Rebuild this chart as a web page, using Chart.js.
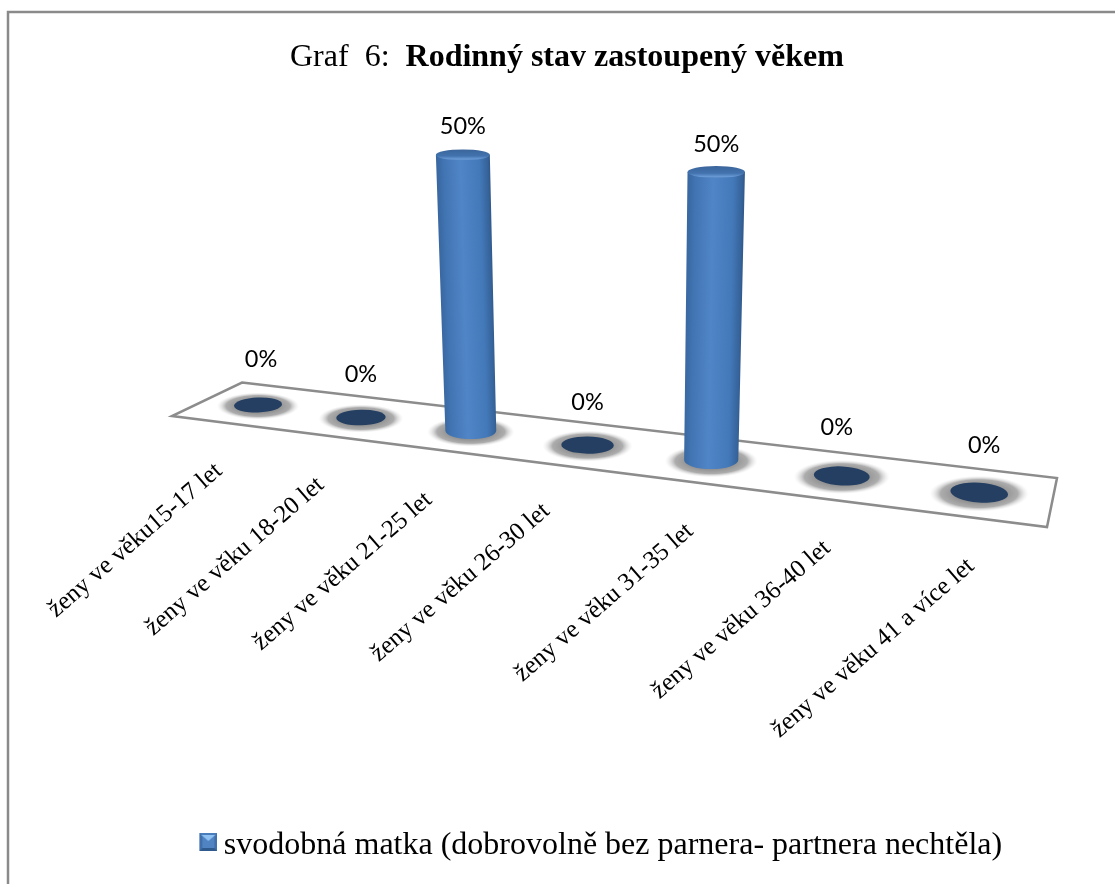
<!DOCTYPE html>
<html><head><meta charset="utf-8">
<style>html,body{margin:0;padding:0;background:#fff}#w{position:relative;width:1115px;height:884px}canvas{display:block}</style>
<script src="https://cdn.jsdelivr.net/npm/chart.js@4"></script></head>
<body><div id="w"><canvas id="c" width="1115" height="884"></canvas></div>
<script>
const categories = ['ženy ve věku15-17 let','ženy ve věku 18-20 let','ženy ve věku 21-25 let','ženy ve věku 26-30 let','ženy ve věku 31-35 let','ženy ve věku 36-40 let','ženy ve věku 41 a více let'];
const seriesName = 'svodobná matka (dobrovolně bez parnera- partnera nechtěla)';
const seriesValues = [0,0,50,0,50,0,0];
const titlePrefix = 'Graf  6:  ';
const titleBold = 'Rodinný stav zastoupený věkem';

const tickNudgeX = [-49,-50,-52,-51,-31,-24.5,-18];
const tickNudgeY = [51.5,53,54.6,51.5,56.6,57.8,59];
const labelNudgeX = [3,0,0,0,0,-5,5];
const labelNudgeY = [-1,2,0,2,0,-4,-2];
const serif = '"Liberation Serif","Times New Roman",serif';

// perspective of the slanted floor: category pixel -> screen point
function project(chart, xPx){
  const s = (xPx - chart.scales.x.getPixelForValue(0)) / (chart.scales.x.getPixelForValue(1) - chart.scales.x.getPixelForValue(0));
  const x = 258 + 99.5*s + 3.45*s*s;
  const y = chart.scales.y.getPixelForValue(0) + (x-258)*0.1215;
  const rx = 24 + (x-258)*0.0068;
  const ry = 7.5 + (x-258)*0.0034;
  return {x,y,rx,ry};
}

function halo(ctx,p){
  ctx.save();
  ctx.translate(p.x,p.y+1);
  const R=p.rx*1.72;
  ctx.scale(1,(p.ry*1.8)/R);
  const g=ctx.createRadialGradient(0,0,R*0.5,0,0,R);
  g.addColorStop(0,'rgba(145,145,145,1)');
  g.addColorStop(0.55,'rgba(168,168,168,0.95)');
  g.addColorStop(1,'rgba(230,230,230,0)');
  ctx.fillStyle=g;
  ctx.beginPath();ctx.arc(0,0,R,0,Math.PI*2);ctx.fill();
  ctx.restore();
}

function cylinder(ctx,b,t,rt,ryt){
  const h=b.y-t.y, k=(b.x-t.x)/h;
  ctx.save();
  ctx.transform(1,0,k,1,b.x,b.y);   // local frame follows the leaning axis
  const g=ctx.createLinearGradient(-rt,0,rt,0);
  g.addColorStop(0,'#38669f');g.addColorStop(0.14,'#4174b2');
  g.addColorStop(0.45,'#5085c7');g.addColorStop(0.8,'#4379b9');
  g.addColorStop(0.95,'#36639a');g.addColorStop(1,'#2f5788');
  ctx.fillStyle=g;
  ctx.beginPath();
  ctx.moveTo(-rt,-h);
  ctx.lineTo(-b.rx,0);
  ctx.ellipse(0,0,b.rx,b.ry,0,Math.PI,0,true);
  ctx.lineTo(rt,-h);
  ctx.closePath();ctx.fill();
  ctx.restore();
  const c=ctx.createLinearGradient(0,t.y-ryt,0,t.y+ryt);
  c.addColorStop(0,'#3a659b');c.addColorStop(0.6,'#4272ad');c.addColorStop(0.9,'#6b9bd6');c.addColorStop(1,'#4f82c0');
  ctx.fillStyle=c;
  ctx.beginPath();ctx.ellipse(t.x,t.y,rt,ryt,0,0,Math.PI*2);ctx.fill();
}

const legendIcon = document.createElement('canvas');
legendIcon.width=20;legendIcon.height=26;
(function(){
  const c=legendIcon.getContext('2d');
  c.translate(2,0);
  c.fillStyle='#4a7ebb';c.fillRect(0,0,18,18);
  c.fillStyle='#3f70ab';c.beginPath();c.moveTo(0,0);c.lineTo(9,9);c.lineTo(0,18);c.fill();
  c.fillStyle='#3f70ab';c.beginPath();c.moveTo(18,0);c.lineTo(9,9);c.lineTo(18,18);c.fill();
  c.fillStyle='#4f83c2';c.fillRect(3,3,12,12);
  c.fillStyle='#8fc1f2';c.beginPath();c.moveTo(2,2);c.lineTo(16,2);c.lineTo(9,8);c.fill();
  c.fillStyle='#2f5a8e';c.beginPath();c.moveTo(0,18);c.lineTo(3,15);c.lineTo(15,15);c.lineTo(18,18);c.fill();
})();

const stage = {
  id:'stage',
  beforeDraw(chart){
    const ctx=chart.ctx;
    ctx.save();
    ctx.strokeStyle='#8a8a8a';ctx.lineWidth=2.5;
    ctx.beginPath();ctx.moveTo(8,890);ctx.lineTo(8,12);ctx.lineTo(1120,12);ctx.stroke();
    ctx.restore();
    const s=chart.scales.x;
    if(!s._wrapped){
      const orig=s._computeLabelItems.bind(s);
      s._computeLabelItems=function(a){
        const items=orig(a);
        items.forEach((it,i)=>{
          const p=project(chart,s.getPixelForValue(i));
          it.options.translation=[p.x+tickNudgeX[i],p.y+tickNudgeY[i]];
        });
        return items;
      };
      s._wrapped=true;
    }
    s._labelItems=null;
  },
  beforeDatasetsDraw(chart){
    const ctx=chart.ctx;
    const y0=chart.scales.y.getPixelForValue(0);
    ctx.save();
    ctx.strokeStyle='#8c8c8c';ctx.lineWidth=2.5;ctx.lineJoin='miter';ctx.fillStyle='#fff';
    ctx.beginPath();
    ctx.moveTo(242,y0-22.5);ctx.lineTo(1057,y0+73);ctx.lineTo(1047,y0+122);ctx.lineTo(172,y0+11);ctx.closePath();
    ctx.fill();ctx.stroke();
    ctx.restore();
  },
  beforeDatasetDraw(chart,args){
    const ctx=chart.ctx, meta=args.meta;
    ctx.save();
    ctx.font='23.5px Lato,"Open Sans",sans-serif';ctx.textAlign='center';ctx.textBaseline='middle';
    meta.data.forEach((el,i)=>{
      const b=project(chart,el.x);
      const h=(el.base-el.y)*(275+(b.x-471)*0.05)/270;
      halo(ctx,b);
      if(h>0.5){
        const t={x:b.x+(b.x-618)*0.054,y:b.y-h};
        cylinder(ctx,b,t,b.rx*1.06,b.ry*0.66);
        ctx.fillStyle='#000';ctx.fillText(seriesValues[i]+'%',t.x+labelNudgeX[i],t.y-28+labelNudgeY[i]);
      }else{
        ctx.fillStyle='#243f62';
        ctx.beginPath();ctx.ellipse(b.x,b.y,b.rx,b.ry,(b.x-500)*0.00015,0,Math.PI*2);ctx.fill();
        ctx.fillStyle='#000';ctx.fillText(seriesValues[i]+'%',b.x+labelNudgeX[i],b.y-45+labelNudgeY[i]);
      }
    });
    ctx.restore();
    return false;
  },
  afterDraw(chart){
    const ctx=chart.ctx;
    ctx.save();
    ctx.fillStyle='#000';ctx.textBaseline='middle';ctx.textAlign='left';
    ctx.font='32px '+serif;
    const w1=ctx.measureText(titlePrefix).width;
    ctx.fillText(titlePrefix,290,57.5);
    ctx.font='bold 32px '+serif;
    ctx.fillText(titleBold,290+w1,57.5);
    ctx.restore();
  }
};

new Chart(document.getElementById('c'),{
  type:'bar',
  data:{labels:categories,datasets:[{label:seriesName,data:seriesValues,backgroundColor:'#4f81bd'}]},
  plugins:[stage],
  options:{
    responsive:false,animation:false,
    layout:{padding:{left:184.5,right:90.5,top:134,bottom:12}},
    plugins:{
      title:{display:false},tooltip:{enabled:false},
      legend:{position:'bottom',labels:{
        color:'#000',font:{family:serif,size:32},usePointStyle:true,pointStyleWidth:1,padding:6,
        generateLabels(chart){
          const l=Chart.defaults.plugins.legend.labels.generateLabels(chart);
          l.forEach(x=>{x.pointStyle=legendIcon;});
          return l;
        }
      }}
    },
    scales:{
      x:{grid:{display:false},border:{display:false},
        ticks:{autoSkip:false,minRotation:41,maxRotation:41,color:'#000',font:{family:serif,size:25},padding:0},
        afterFit(s){s.height=419;}},
      y:{display:false,min:0,max:50}
    }
  }
});
</script></body></html>
